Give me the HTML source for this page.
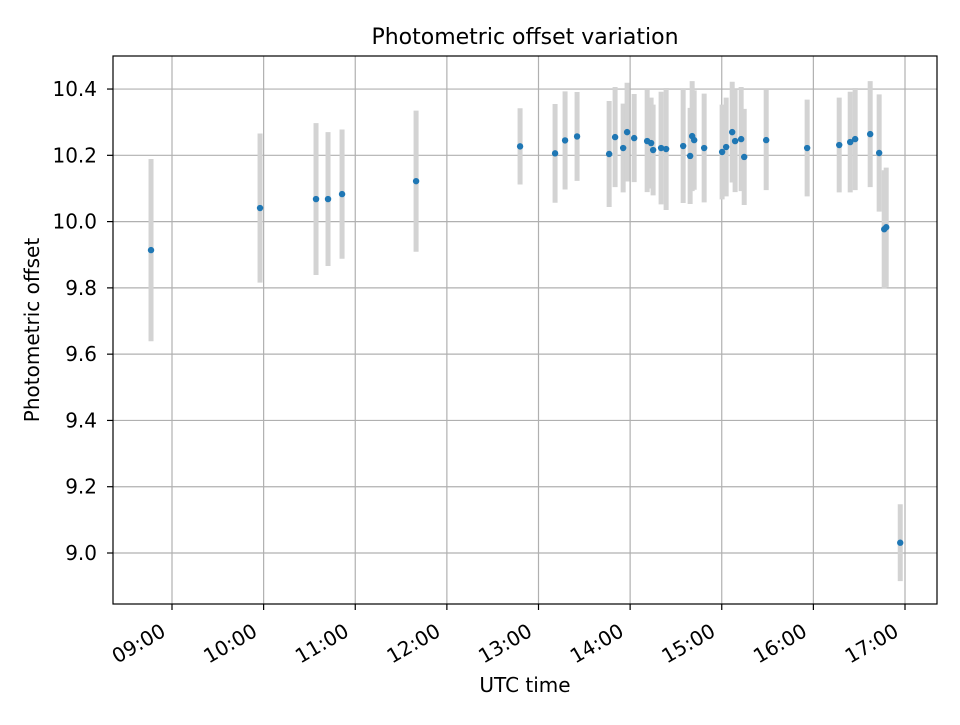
<!DOCTYPE html>
<html><head><meta charset="utf-8"><style>
body{margin:0;background:#fff;}
svg text{font-family:"DejaVu Sans","Liberation Sans",sans-serif;fill:#000;}
</style></head><body>
<svg id="chart" width="960" height="720" xmlns="http://www.w3.org/2000/svg">
<rect width="960" height="720" fill="#fff"/>
<g id="grid"></g><g id="bars"></g><g id="points"></g><g id="axes"></g>
</svg>
<script>
const times=[8.771,9.961,10.572,10.703,10.856,11.664,12.799,13.181,13.290,13.421,13.771,13.836,13.924,13.967,14.044,14.186,14.229,14.251,14.338,14.393,14.579,14.655,14.677,14.699,14.808,15.004,15.048,15.114,15.146,15.212,15.245,15.485,15.932,16.282,16.402,16.456,16.620,16.718,16.773,16.795,16.948];
const offsets=[9.914,10.041,10.068,10.068,10.083,10.122,10.227,10.206,10.245,10.257,10.204,10.255,10.222,10.270,10.252,10.243,10.237,10.216,10.222,10.219,10.228,10.198,10.258,10.246,10.222,10.210,10.225,10.270,10.243,10.249,10.195,10.246,10.222,10.231,10.240,10.249,10.264,10.207,9.977,9.983,9.031];
const errors=[0.275,0.225,0.229,0.202,0.195,0.213,0.115,0.149,0.148,0.134,0.160,0.151,0.134,0.149,0.133,0.154,0.137,0.137,0.170,0.184,0.172,0.145,0.166,0.150,0.164,0.143,0.149,0.152,0.154,0.157,0.145,0.151,0.146,0.143,0.152,0.154,0.160,0.177,0.178,0.180,0.116];
const xTicks=[9,10,11,12,13,14,15,16,17];
const xTickLabels=["09:00","10:00","11:00","12:00","13:00","14:00","15:00","16:00","17:00"];
const yTicks=[9.0,9.2,9.4,9.6,9.8,10.0,10.2,10.4];
const yTickLabels=["9.0","9.2","9.4","9.6","9.8","10.0","10.2","10.4"];

const L=113,R=937,T=56,B=604;
const x=h=>172+(h-9)*91.625;
const y=v=>553-(v-9.0)*331.4;
const NS="http://www.w3.org/2000/svg";
function mk(tag,parent,attrs){const e=document.createElementNS(NS,tag);for(const k in attrs)e.setAttribute(k,attrs[k]);parent.appendChild(e);return e;}
const grid=document.getElementById('grid'),bars=document.getElementById('bars'),pts=document.getElementById('points'),ax=document.getElementById('axes');

xTicks.forEach((t,i)=>{
  const gx=x(t);
  const g=mk('line',grid,{x1:gx,x2:gx,y1:T,y2:B,stroke:'#b0b0b0','stroke-width':1.2});
  
  
  const tk=mk('line',ax,{x1:gx,x2:gx,y1:B,y2:B+6,stroke:'#000','stroke-width':1.2});
  
  
  const bx=gx-5,by=635;
  const tx=mk('text',ax,{x:bx,y:by,'font-size':20,'text-anchor':'end',transform:`rotate(-30 ${bx} ${by})`});
  tx.textContent=xTickLabels[i];
  
  
});
yTicks.forEach((v,i)=>{
  const gy=y(v);
  const g=mk('line',grid,{x1:L,x2:R,y1:gy,y2:gy,stroke:'#b0b0b0','stroke-width':1.2});
  
  
  const tk=mk('line',ax,{x1:L-6,x2:L,y1:gy,y2:gy,stroke:'#000','stroke-width':1.2});
  
  
  const tx=mk('text',ax,{x:L-16,y:gy+7,'font-size':20,'text-anchor':'end'});
  tx.textContent=yTickLabels[i];
  
  
});
times.forEach((t,i)=>{
  const bx=x(t);
  const b=mk('line',bars,{x1:bx,x2:bx,y1:y(offsets[i]-errors[i]),y2:y(offsets[i]+errors[i]),stroke:'#d3d3d3','stroke-width':5});
  
  
  const c=mk('circle',pts,{cx:bx,cy:y(offsets[i]),r:3.2,fill:'#1f77b4'});
  
  
});
const fr=mk('rect',ax,{x:L,y:T,width:R-L,height:B-T,fill:'none',stroke:'#000','stroke-width':1.2});


const ti=mk('text',ax,{x:(L+R)/2,y:44,'font-size':22,'text-anchor':'middle'});
ti.textContent='Photometric offset variation';


const xl=mk('text',ax,{x:(L+R)/2,y:692,'font-size':20,'text-anchor':'middle'});
xl.textContent='UTC time';


const yl=mk('text',ax,{x:39,y:330,'font-size':20,'text-anchor':'middle',transform:'rotate(-90 39 330)'});
yl.textContent='Photometric offset';


</script>
</body></html>
